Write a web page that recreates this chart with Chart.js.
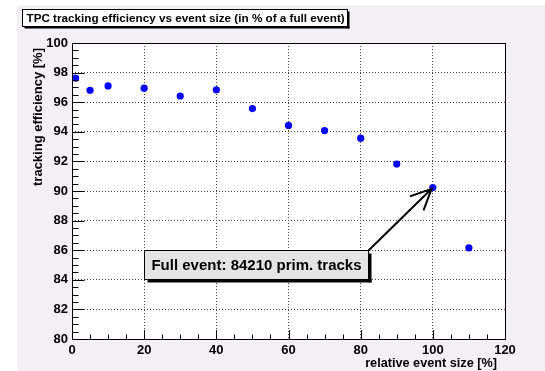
<!DOCTYPE html>
<html>
<head>
<meta charset="utf-8">
<title>TPC tracking efficiency</title>
<script src="https://cdn.jsdelivr.net/npm/chart.js@4/dist/chart.umd.min.js"></script>
<style>
  html, body { margin: 0; padding: 0; background: #fff; }
  #wrap { width: 545px; height: 371px; }
</style>
</head>
<body>
<div id="wrap"><canvas id="c" width="545" height="371"></canvas></div>
<script>
// Relative event size (% of a full event) and the measured TPC tracking efficiency (%)
const eventSize = [1, 5, 10, 20, 30, 40, 50, 60, 70, 80, 90, 100, 110];
const efficiency = [97.62, 96.80, 97.10, 96.95, 96.42, 96.84, 95.57, 94.43, 94.08, 93.57, 91.82, 90.23, 86.16];

// Axis ranges and labelled ticks
const xMajorTicks = [0, 20, 40, 60, 80, 100, 120];
const yMajorTicks = [80, 82, 84, 86, 88, 90, 92, 94, 96, 98, 100];
const xMinorStep = 5;
const yMinorStep = 0.5;

// Texts
const titleText = 'TPC tracking efficiency vs event size (in % of a full event)';
const xTitle = 'relative event size [%]';
const yTitle = 'tracking efficiency [%]';
const noteText = 'Full event: 84210 prim. tracks';
const notePoint = { x: 100, y: 90.23 };

const FONT = "'Liberation Sans', Arial, Helvetica, sans-serif";
const W = 545, H = 371;

const rootStyle = {
  id: 'rootStyle',
  beforeDraw(chart) {
    const { ctx, chartArea: a } = chart;
    ctx.save();
    ctx.fillStyle = '#ffffff';
    ctx.fillRect(0, 0, W, H);
    ctx.fillStyle = '#f3f0f3';
    ctx.fillRect(17, 5, W - 17, H - 5);
    ctx.fillStyle = '#ffffff';
    ctx.fillRect(a.left, a.top, a.right - a.left, a.bottom - a.top);
    ctx.restore();
  },
  afterDatasetsDraw(chart) {
    const { ctx, chartArea: a, scales } = chart;
    const xs = scales.x, ys = scales.y;
    ctx.save();
    ctx.strokeStyle = '#000';
    ctx.lineWidth = 1;
    // inward tick marks on the left axis
    ctx.beginPath();
    const yMin = yMajorTicks[0], yMax = yMajorTicks[yMajorTicks.length - 1];
    const nY = Math.round((yMax - yMin) / yMinorStep);
    for (let k = 0; k <= nY; k++) {
      const v = yMin + k * yMinorStep;
      const py = Math.round(ys.getPixelForValue(v)) + 0.5;
      const len = (k % 4 === 0) ? 12.5 : 6.5;
      ctx.moveTo(a.left, py);
      ctx.lineTo(a.left + len, py);
    }
    // inward tick marks on the bottom axis
    const xMin = xMajorTicks[0], xMax = xMajorTicks[xMajorTicks.length - 1];
    const nX = Math.round((xMax - xMin) / xMinorStep);
    for (let k = 0; k <= nX; k++) {
      const v = xMin + k * xMinorStep;
      const px = Math.round(xs.getPixelForValue(v)) + 0.5;
      const len = (k % 4 === 0) ? 9 : 4.5;
      ctx.moveTo(px, a.bottom);
      ctx.lineTo(px, a.bottom - len);
    }
    ctx.stroke();
    // frame
    ctx.strokeRect(Math.round(a.left) + 0.5, Math.round(a.top) + 0.5,
                   Math.round(a.right - a.left), Math.round(a.bottom - a.top));
    ctx.restore();
  },
  afterDraw(chart) {
    const { ctx, scales } = chart;
    ctx.save();

    // title pave with shadow
    const tb = { x: 22.5, y: 9.5, w: 325, h: 17 };
    ctx.fillStyle = '#000';
    ctx.fillRect(tb.x + 2, tb.y + tb.h, tb.w, 2);
    ctx.fillRect(tb.x + tb.w, tb.y + 2, 2, tb.h);
    ctx.fillStyle = '#fff';
    ctx.fillRect(tb.x, tb.y, tb.w, tb.h);
    ctx.strokeStyle = '#000';
    ctx.lineWidth = 1;
    ctx.strokeRect(tb.x, tb.y, tb.w, tb.h);
    ctx.fillStyle = '#000';
    ctx.font = 'bold 11.7px ' + FONT;
    ctx.textAlign = 'left';
    ctx.textBaseline = 'middle';
    ctx.fillText(titleText, tb.x + 4, tb.y + tb.h / 2 + 0.5);

    // axis titles
    ctx.font = 'bold 12.7px ' + FONT;
    ctx.textAlign = 'right';
    ctx.textBaseline = 'middle';
    ctx.fillText(xTitle, 497, 363);
    ctx.save();
    ctx.translate(38, 48);
    ctx.rotate(-Math.PI / 2);
    ctx.font = 'bold 13px ' + FONT;
    ctx.fillText(yTitle, 0, 0);
    ctx.restore();

    // annotation box with shadow
    const nb = { x: 144.5, y: 250.5, w: 224, h: 29 };
    ctx.fillStyle = '#000';
    ctx.fillRect(nb.x + 3, nb.y + nb.h, nb.w, 3);
    ctx.fillRect(nb.x + nb.w, nb.y + 3, 3, nb.h);
    ctx.fillStyle = '#e4e4e4';
    ctx.fillRect(nb.x, nb.y, nb.w, nb.h);
    ctx.strokeStyle = '#000';
    ctx.lineWidth = 1;
    ctx.strokeRect(nb.x, nb.y, nb.w, nb.h);
    ctx.fillStyle = '#000';
    ctx.font = 'bold 15px ' + FONT;
    ctx.textAlign = 'center';
    ctx.textBaseline = 'middle';
    ctx.fillText(noteText, nb.x + nb.w / 2, nb.y + nb.h / 2 + 0.5);

    // arrow from the box corner to the full-event point
    const sx = nb.x + nb.w, sy = nb.y;
    const tx = scales.x.getPixelForValue(notePoint.x) - 1.2;
    const ty = scales.y.getPixelForValue(notePoint.y) + 1.2;
    const ang = Math.atan2(sy - ty, sx - tx);
    const head = 23, spread = 25 * Math.PI / 180;
    ctx.strokeStyle = '#000';
    ctx.lineWidth = 2;
    ctx.lineCap = 'butt';
    ctx.beginPath();
    ctx.moveTo(sx, sy);
    ctx.lineTo(tx, ty);
    ctx.moveTo(tx + head * Math.cos(ang + spread), ty + head * Math.sin(ang + spread));
    ctx.lineTo(tx, ty);
    ctx.lineTo(tx + head * Math.cos(ang - spread), ty + head * Math.sin(ang - spread));
    ctx.stroke();

    ctx.restore();
  }
};

const ticksFrom = (arr) => (scale) => { scale.ticks = arr.map(v => ({ value: v })); };

new Chart(document.getElementById('c'), {
  type: 'scatter',
  data: {
    datasets: [{
      label: 'efficiency',
      data: eventSize.map((x, i) => ({ x: x, y: efficiency[i] })),
      backgroundColor: '#0000ff',
      borderColor: '#0000ff',
      borderWidth: 0,
      pointRadius: 3.6,
      pointHoverRadius: 3.6,
      pointStyle: 'circle'
    }]
  },
  options: {
    responsive: false,
    devicePixelRatio: 1,
    animation: false,
    events: [],
    layout: { padding: { left: 0, top: 43, right: 40, bottom: 0 } },
    plugins: { legend: { display: false }, tooltip: { enabled: false }, title: { display: false } },
    scales: {
      x: {
        type: 'linear',
        min: xMajorTicks[0],
        max: xMajorTicks[xMajorTicks.length - 1],
        afterBuildTicks: ticksFrom(xMajorTicks),
        afterFit: (s) => { s.height = 32; },
        border: { display: false, dash: [1, 2] },
        grid: { color: '#444', lineWidth: 1, borderDash: [1, 2], drawTicks: false },
        ticks: {
          autoSkip: false, maxRotation: 0, padding: 4, color: '#000',
          font: { family: FONT, size: 13, weight: 'bold' }
        }
      },
      y: {
        type: 'linear',
        min: yMajorTicks[0],
        max: yMajorTicks[yMajorTicks.length - 1],
        afterBuildTicks: ticksFrom(yMajorTicks),
        afterFit: (s) => { s.width = 72; },
        border: { display: false, dash: [1, 2] },
        grid: { color: '#444', lineWidth: 1, borderDash: [1, 2], drawTicks: false },
        ticks: {
          autoSkip: false, padding: 4, color: '#000',
          font: { family: FONT, size: 13, weight: 'bold' }
        }
      }
    }
  },
  plugins: [rootStyle]
});
</script>
</body>
</html>
